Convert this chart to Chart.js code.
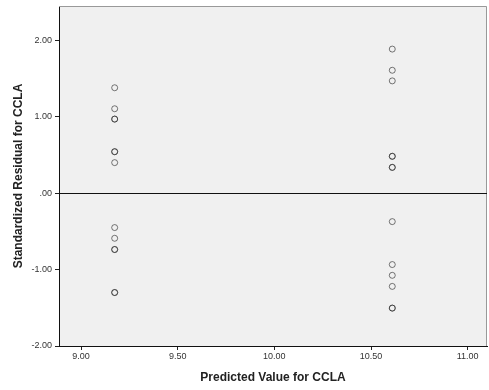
<!DOCTYPE html>
<html>
<head>
<meta charset="utf-8">
<script src="https://cdn.jsdelivr.net/npm/chart.js@4/dist/chart.umd.min.js"></script>
<style>
  html, body { margin: 0; padding: 0; background: #fff; }
  #wrap { width: 489px; height: 390px; }
</style>
</head>
<body>
<div id="wrap"><canvas id="chart-resid" width="489" height="390"></canvas></div>
<script>
// predicted value per group
const predLow  = 9.174;
const predHigh = 10.61;

// standardized residuals (duplicates = overlapping, darker circles)
const residLow  = [1.38, 1.105, 0.97, 0.97, 0.543, 0.543, 0.40, -0.45, -0.59, -0.737, -0.737, -1.30, -1.30];
const residHigh = [1.886, 1.609, 1.47, 0.483, 0.483, 0.338, 0.338, -0.372, -0.934, -1.075, -1.22, -1.504, -1.504];

const xTicks = [9.00, 9.50, 10.00, 10.50, 11.00];
const yTicks = [-2, -1, 0, 1, 2];

const points = residLow.map(r => ({ x: predLow, y: r }))
  .concat(residHigh.map(r => ({ x: predHigh, y: r })));

const fmtTick = v => (Math.abs(v) < 1e-9 ? '.00' : v.toFixed(2));
const FONT = 'Arial, "Liberation Sans", sans-serif';

// plot background, grey top/right frame and the zero reference line
const framePlugin = {
  id: 'frame',
  beforeDraw(chart) {
    const { ctx, chartArea: a } = chart;
    ctx.save();
    ctx.fillStyle = '#f0f0f0';
    ctx.fillRect(a.left, a.top, a.right - a.left, a.bottom - a.top);
    ctx.restore();
  },
  beforeDatasetsDraw(chart) {
    const { ctx, chartArea: a, scales } = chart;
    ctx.save();
    ctx.strokeStyle = '#999';
    ctx.lineWidth = 1;
    ctx.beginPath();
    ctx.moveTo(a.left, a.top + 0.5);
    ctx.lineTo(a.right - 0.5, a.top + 0.5);
    ctx.lineTo(a.right - 0.5, a.bottom);
    ctx.stroke();
    const y0 = Math.round(scales.y.getPixelForValue(0)) + 0.5;
    ctx.strokeStyle = '#111';
    ctx.beginPath();
    ctx.moveTo(a.left, y0);
    ctx.lineTo(a.right, y0);
    ctx.stroke();
    ctx.restore();
  }
};

new Chart(document.getElementById('chart-resid').getContext('2d'), {
  type: 'scatter',
  data: {
    datasets: [{
      data: points,
      pointStyle: 'circle',
      pointRadius: 3,
      pointBorderWidth: 1,
      pointBackgroundColor: 'rgba(0,0,0,0)',
      pointBorderColor: 'rgba(40,40,40,0.62)'
    }]
  },
  options: {
    responsive: false,
    animation: false,
    layout: { autoPadding: false, padding: { top: 6, right: 2, left: 0, bottom: 0 } },
    plugins: { legend: { display: false }, tooltip: { enabled: false } },
    scales: {
      x: {
        type: 'linear', min: 8.886, max: 11.10,
        afterBuildTicks: s => { s.ticks = xTicks.map(v => ({ value: v })); },
        afterFit: s => { s.height = 44; s.paddingLeft = 0; s.paddingRight = 0; },
        grid: { drawOnChartArea: false, drawTicks: true, tickLength: 4, tickColor: '#222' },
        border: { display: true, color: '#111', width: 1 },
        ticks: { color: '#333', padding: 1, font: { family: FONT, size: 9 }, callback: fmtTick, maxRotation: 0 },
        title: { display: true, text: 'Predicted Value for CCLA', color: '#222',
          font: { family: FONT, size: 12, weight: 'bold' }, padding: { top: 5, bottom: 5 } }
      },
      y: {
        type: 'linear', min: -2, max: 2.45,
        afterBuildTicks: s => { s.ticks = yTicks.map(v => ({ value: v })); },
        afterFit: s => { s.width = 59; s.paddingTop = 0; s.paddingBottom = 0; },
        grid: { drawOnChartArea: false, drawTicks: true, tickLength: 4, tickColor: '#222' },
        border: { display: true, color: '#111', width: 1 },
        ticks: { color: '#333', padding: 3, font: { family: FONT, size: 9 }, callback: fmtTick },
        title: { display: true, text: 'Standardized Residual for CCLA', color: '#222',
          font: { family: FONT, size: 12, weight: 'bold' }, padding: { top: 11, bottom: 0 } }
      }
    }
  },
  plugins: [framePlugin]
});
</script>
</body>
</html>
